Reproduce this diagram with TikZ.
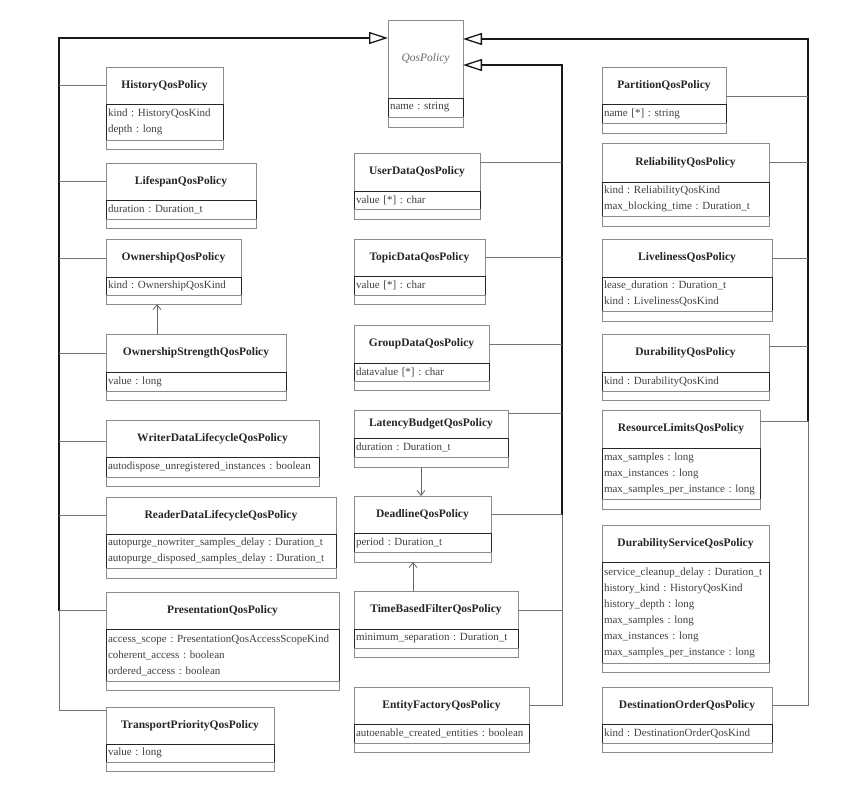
\documentclass[tikz,border=0pt]{standalone}
\usepackage{fontspec}
\setmainfont{Liberation Serif}
\usetikzlibrary{arrows.meta}

\begin{document}
\begin{tikzpicture}[x=1pt, y=-1pt,
    clsname/.style={draw=black!45, line width=0.8pt, anchor=north west, inner sep=0pt, outer sep=0pt,
      font=\fontsize{11.5}{16}\selectfont\bfseries, text=black!85},
    clsattr/.style={draw=black!85, line width=0.9pt, anchor=north west, inner xsep=2pt, inner ysep=0pt,
      outer sep=0pt, align=left, font=\fontsize{11}{16}\selectfont\frenchspacing, text=black!75},
    clsops/.style={draw=black!45, line width=0.8pt, anchor=north west, inner sep=0pt, outer sep=0pt},
    busline/.style={line width=1.3pt, black!90},
    branchline/.style={line width=0.8pt, black!55},
    genarrow/.style={-{Triangle[open, length=19pt, width=12pt]}, line width=1.3pt, black!90},
    assocline/.style={-{Straight Barb[length=5pt, width=8pt]}, line width=0.8pt, black!60}]
    \useasboundingbox (0,0) rectangle (864,785);

    % root class
    \node[clsname, minimum width=75pt, minimum height=78pt, font=\fontsize{11.5}{16}\selectfont\itshape, text=black!60] (QosP) at (388,20) {QosPolicy};
    \node[clsattr, text width=71pt, minimum height=19pt] (QosPa) at (QosP.south west) {name : string};
    \node[clsops, minimum width=75pt, minimum height=10pt] (QosPo) at (QosPa.south west) {};

    % left column
    \node[clsname, minimum width=117pt, minimum height=37pt] (HistQ) at (106,67) {HistoryQosPolicy};
    \node[clsattr, text width=113pt, minimum height=36pt] (HistQa) at (HistQ.south west) {kind : HistoryQosKind\\depth : long};
    \node[clsops, minimum width=117pt, minimum height=9pt] (HistQo) at (HistQa.south west) {};

    \node[clsname, minimum width=150pt, minimum height=37pt] (LifeQ) at (106,163) {LifespanQosPolicy};
    \node[clsattr, text width=146pt, minimum height=19pt] (LifeQa) at (LifeQ.south west) {duration : Duration\_t};
    \node[clsops, minimum width=150pt, minimum height=9pt] (LifeQo) at (LifeQa.south west) {};

    \node[clsname, minimum width=135pt, minimum height=38pt] (OwnQ) at (106,239) {OwnershipQosPolicy};
    \node[clsattr, text width=131pt, minimum height=18pt] (OwnQa) at (OwnQ.south west) {kind : OwnershipQosKind};
    \node[clsops, minimum width=135pt, minimum height=9pt] (OwnQo) at (OwnQa.south west) {};

    \node[clsname, minimum width=180pt, minimum height=38pt] (OwnStrQ) at (106,334) {OwnershipStrengthQosPolicy};
    \node[clsattr, text width=176pt, minimum height=19pt] (OwnStrQa) at (OwnStrQ.south west) {value : long};
    \node[clsops, minimum width=180pt, minimum height=9pt] (OwnStrQo) at (OwnStrQa.south west) {};

    \node[clsname, minimum width=213pt, minimum height=37pt] (WriterQ) at (106,420) {WriterDataLifecycleQosPolicy};
    \node[clsattr, text width=209pt, minimum height=20pt] (WriterQa) at (WriterQ.south west) {autodispose\_unregistered\_instances : boolean};
    \node[clsops, minimum width=213pt, minimum height=9pt] (WriterQo) at (WriterQa.south west) {};

    \node[clsname, minimum width=230pt, minimum height=37pt] (ReaderQ) at (106,497) {ReaderDataLifecycleQosPolicy};
    \node[clsattr, text width=226pt, minimum height=34pt] (ReaderQa) at (ReaderQ.south west) {autopurge\_nowriter\_samples\_delay : Duration\_t\\autopurge\_disposed\_samples\_delay : Duration\_t};
    \node[clsops, minimum width=230pt, minimum height=10pt] (ReaderQo) at (ReaderQa.south west) {};

    \node[clsname, minimum width=233pt, minimum height=37pt] (PresQ) at (106,592) {PresentationQosPolicy};
    \node[clsattr, text width=229pt, minimum height=52pt] (PresQa) at (PresQ.south west) {access\_scope : PresentationQosAccessScopeKind\\coherent\_access : boolean\\ordered\_access : boolean};
    \node[clsops, minimum width=233pt, minimum height=9pt] (PresQo) at (PresQa.south west) {};

    \node[clsname, minimum width=168pt, minimum height=37pt] (TransQ) at (106,707) {TransportPriorityQosPolicy};
    \node[clsattr, text width=164pt, minimum height=18pt] (TransQa) at (TransQ.south west) {value : long};
    \node[clsops, minimum width=168pt, minimum height=9pt] (TransQo) at (TransQa.south west) {};

    % middle column
    \node[clsname, minimum width=126pt, minimum height=38pt] (UserQ) at (354,153) {UserDataQosPolicy};
    \node[clsattr, text width=122pt, minimum height=18pt] (UserQa) at (UserQ.south west) {value [*] : char};
    \node[clsops, minimum width=126pt, minimum height=10pt] (UserQo) at (UserQa.south west) {};

    \node[clsname, minimum width=131pt, minimum height=37pt] (TopicQ) at (354,239) {TopicDataQosPolicy};
    \node[clsattr, text width=127pt, minimum height=19pt] (TopicQa) at (TopicQ.south west) {value [*] : char};
    \node[clsops, minimum width=131pt, minimum height=9pt] (TopicQo) at (TopicQa.south west) {};

    \node[clsname, minimum width=135pt, minimum height=38pt] (GroupQ) at (354,325) {GroupDataQosPolicy};
    \node[clsattr, text width=131pt, minimum height=18pt] (GroupQa) at (GroupQ.south west) {datavalue [*] : char};
    \node[clsops, minimum width=135pt, minimum height=9pt] (GroupQo) at (GroupQa.south west) {};

    \node[clsname, minimum width=154pt, minimum height=28pt] (LatQ) at (354,410) {LatencyBudgetQosPolicy};
    \node[clsattr, text width=150pt, minimum height=19pt] (LatQa) at (LatQ.south west) {duration : Duration\_t};
    \node[clsops, minimum width=154pt, minimum height=10pt] (LatQo) at (LatQa.south west) {};

    \node[clsname, minimum width=137pt, minimum height=37pt] (DeadQ) at (354,496) {DeadlineQosPolicy};
    \node[clsattr, text width=133pt, minimum height=19pt] (DeadQa) at (DeadQ.south west) {period : Duration\_t};
    \node[clsops, minimum width=137pt, minimum height=10pt] (DeadQo) at (DeadQa.south west) {};

    \node[clsname, minimum width=164pt, minimum height=38pt] (TimeQ) at (354,591) {TimeBasedFilterQosPolicy};
    \node[clsattr, text width=160pt, minimum height=19pt] (TimeQa) at (TimeQ.south west) {minimum\_separation : Duration\_t};
    \node[clsops, minimum width=164pt, minimum height=9pt] (TimeQo) at (TimeQa.south west) {};

    \node[clsname, minimum width=175pt, minimum height=37pt] (EntQ) at (354,687) {EntityFactoryQosPolicy};
    \node[clsattr, text width=171pt, minimum height=19pt] (EntQa) at (EntQ.south west) {autoenable\_created\_entities : boolean};
    \node[clsops, minimum width=175pt, minimum height=9pt] (EntQo) at (EntQa.south west) {};

    % right column
    \node[clsname, minimum width=124pt, minimum height=37pt] (PartQ) at (602,67) {PartitionQosPolicy};
    \node[clsattr, text width=120pt, minimum height=19pt] (PartQa) at (PartQ.south west) {name [*] : string};
    \node[clsops, minimum width=124pt, minimum height=10pt] (PartQo) at (PartQa.south west) {};

    \node[clsname, minimum width=167pt, minimum height=39pt] (RelQ) at (602,143) {ReliabilityQosPolicy};
    \node[clsattr, text width=163pt, minimum height=34pt] (RelQa) at (RelQ.south west) {kind : ReliabilityQosKind\\max\_blocking\_time : Duration\_t};
    \node[clsops, minimum width=167pt, minimum height=10pt] (RelQo) at (RelQa.south west) {};

    \node[clsname, minimum width=170pt, minimum height=38pt] (LiveQ) at (602,239) {LivelinessQosPolicy};
    \node[clsattr, text width=166pt, minimum height=34pt] (LiveQa) at (LiveQ.south west) {lease\_duration : Duration\_t\\kind : LivelinessQosKind};
    \node[clsops, minimum width=170pt, minimum height=10pt] (LiveQo) at (LiveQa.south west) {};

    \node[clsname, minimum width=167pt, minimum height=38pt] (DurQ) at (602,334) {DurabilityQosPolicy};
    \node[clsattr, text width=163pt, minimum height=19pt] (DurQa) at (DurQ.south west) {kind : DurabilityQosKind};
    \node[clsops, minimum width=167pt, minimum height=9pt] (DurQo) at (DurQa.south west) {};

    \node[clsname, minimum width=158pt, minimum height=38pt] (ResQ) at (602,410) {ResourceLimitsQosPolicy};
    \node[clsattr, text width=154pt, minimum height=51pt] (ResQa) at (ResQ.south west) {max\_samples : long\\max\_instances : long\\max\_samples\_per\_instance : long};
    \node[clsops, minimum width=158pt, minimum height=10pt] (ResQo) at (ResQa.south west) {};

    \node[clsname, minimum width=167pt, minimum height=37pt] (DurSvcQ) at (602,525) {DurabilityServiceQosPolicy};
    \node[clsattr, text width=163pt, minimum height=101pt] (DurSvcQa) at (DurSvcQ.south west) {service\_cleanup\_delay : Duration\_t\\history\_kind : HistoryQosKind\\history\_depth : long\\max\_samples : long\\max\_instances : long\\max\_samples\_per\_instance : long};
    \node[clsops, minimum width=167pt, minimum height=9pt] (DurSvcQo) at (DurSvcQa.south west) {};

    \node[clsname, minimum width=170pt, minimum height=37pt] (DestQ) at (602,687) {DestinationOrderQosPolicy};
    \node[clsattr, text width=166pt, minimum height=19pt] (DestQa) at (DestQ.south west) {kind : DestinationOrderQosKind};
    \node[clsops, minimum width=170pt, minimum height=9pt] (DestQo) at (DestQa.south west) {};

    % generalization buses
    \coordinate (LBusTop) at (59,38);
    \coordinate (LBusMid) at (PresQ.west -| LBusTop);
    \coordinate (LBusEnd) at ([yshift=-3pt]TransQ.north west -| LBusTop);
    \coordinate (MBusTop) at (562,65);
    \coordinate (MBusMid) at (DeadQ.east -| MBusTop);
    \coordinate (MBusEnd) at (EntQ.east -| MBusTop);
    \coordinate (RBusTop) at (808,39);
    \coordinate (RBusMid) at ([yshift=-11pt]ResQ.north east -| RBusTop);
    \coordinate (RBusEnd) at (DestQ.east -| RBusTop);

    \draw[genarrow] (LBusMid) -- (LBusTop) -- ([yshift=-18pt]QosP.north west);
    \draw[genarrow] (MBusMid) -- (MBusTop) -- ([yshift=-45pt]QosP.north east);
    \draw[genarrow] (RBusMid) -- (RBusTop) -- ([yshift=-19pt]QosP.north east);
    \draw[branchline] (LBusMid) -- (LBusEnd) -- ([yshift=-3pt]TransQ.north west);
    \draw[branchline] (MBusMid) -- (MBusEnd);
    \draw[branchline] (RBusMid) -- (RBusEnd);

    \draw[branchline] (HistQ.west) -- (HistQ.west -| LBusTop);
    \draw[branchline] (LifeQ.west) -- (LifeQ.west -| LBusTop);
    \draw[branchline] (OwnQ.west) -- (OwnQ.west -| LBusTop);
    \draw[branchline] (OwnStrQ.west) -- (OwnStrQ.west -| LBusTop);
    \draw[branchline] ([yshift=-3pt]WriterQ.west) -- ([yshift=-3pt]WriterQ.west -| LBusTop);
    \draw[branchline] (ReaderQ.west) -- (ReaderQ.west -| LBusTop);
    \draw[branchline] (PresQ.west) -- (LBusMid);

    \draw[branchline] ([yshift=-9pt]UserQ.north east) -- ([yshift=-9pt]UserQ.north east -| MBusTop);
    \draw[branchline] (TopicQ.east) -- (TopicQ.east -| MBusTop);
    \draw[branchline] (GroupQ.east) -- (GroupQ.east -| MBusTop);
    \draw[branchline] ([yshift=-3pt]LatQ.north east) -- ([yshift=-3pt]LatQ.north east -| MBusTop);
    \draw[branchline] (DeadQ.east) -- (MBusMid);
    \draw[branchline] (TimeQ.east) -- (TimeQ.east -| MBusTop);
    \draw[branchline] (EntQ.east) -- (MBusEnd);

    \draw[branchline] ([yshift=-29pt]PartQ.north east) -- ([yshift=-29pt]PartQ.north east -| RBusTop);
    \draw[branchline] (RelQ.east) -- (RelQ.east -| RBusTop);
    \draw[branchline] (LiveQ.east) -- (LiveQ.east -| RBusTop);
    \draw[branchline] ([yshift=-12pt]DurQ.north east) -- ([yshift=-12pt]DurQ.north east -| RBusTop);
    \draw[branchline] ([yshift=-11pt]ResQ.north east) -- (RBusMid);
    \draw[branchline] (DestQ.east) -- (RBusEnd);

    % associations
    \draw[assocline] ([xshift=51pt]OwnStrQ.north west) -- ([xshift=51pt]OwnQo.south west);
    \draw[assocline] ([xshift=67pt]LatQo.south west) -- ([xshift=67pt]DeadQ.north west);
    \draw[assocline] ([xshift=59pt]TimeQ.north west) -- ([xshift=59pt]DeadQo.south west);
\end{tikzpicture}
\end{document}
